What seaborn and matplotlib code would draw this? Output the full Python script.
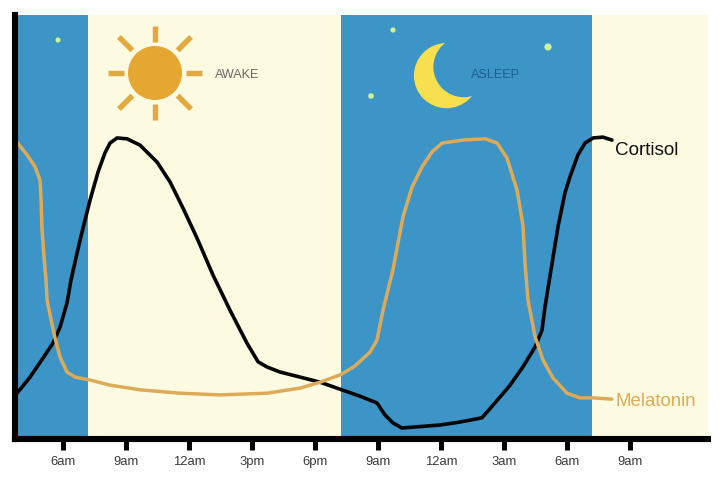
import numpy as np
import pandas as pd
import matplotlib
matplotlib.use("Agg")
import matplotlib.pyplot as plt
from matplotlib.patches import Circle
import seaborn as sns

cortisol_hour = [3.69, 3.81, 4.43, 5.05, 5.52, 5.86, 6.19, 6.38, 6.81, 7.29, 7.67, 8.0, 8.24, 8.57, 9.05,
                 9.67, 10.48, 11.10, 11.71, 12.38, 13.14, 13.95, 14.76, 15.29, 15.71, 16.33, 17.29, 18.24,
                 20.14, 20.95, 21.33, 21.71, 22.14, 23.95, 24.90, 25.95, 26.48, 27.29, 27.90, 28.48, 28.81,
                 28.95, 29.29, 29.57, 29.90, 30.14, 30.52, 30.86, 31.24, 31.71, 32.14]
cortisol_level = [10.1, 10.8, 14.6, 19.1, 22.6, 26.4, 32.1, 37.5, 46.9, 56.4, 63.0, 67.5, 69.8, 71.0, 70.8,
                  69.3, 65.3, 60.6, 54.5, 47.4, 38.7, 30.4, 22.6, 18.2, 17.0, 15.8, 14.6, 13.4,
                  10.1, 8.5, 5.7, 3.8, 2.6, 3.3, 4.0, 5.0, 8.0, 12.7, 17.0, 21.7, 25.7,
                  31.1, 41.5, 50.0, 58.0, 61.8, 67.0, 69.8, 71.0, 71.2, 70.5]
melatonin_hour = [3.81, 4.29, 4.67, 4.90, 4.95, 5.0, 5.12, 5.19, 5.24, 5.43, 5.62, 5.86, 6.19, 6.57, 7.29,
                  8.24, 9.67, 11.57, 13.48, 15.71, 17.29, 18.24, 19.19, 19.90, 20.62, 20.95, 21.24, 21.71,
                  22.19, 22.62, 23.10, 23.57, 24.05, 25.05, 26.10, 26.67, 27.14, 27.62, 27.90, 28.0, 28.14,
                  28.48, 28.86, 29.33, 30.0, 30.62, 31.24, 32.14]
melatonin_level = [70.0, 67.0, 64.2, 61.1, 57.1, 49.3, 41.5, 37.5, 32.8, 28.1, 23.8, 19.3, 15.8, 14.6, 13.9,
                   12.7, 11.6, 10.8, 10.4, 10.8, 12.0, 13.4, 15.1, 17.2, 20.5, 23.3, 30.4, 39.9,
                   52.4, 59.4, 64.2, 67.7, 69.8, 70.5, 70.8, 69.8, 66.3, 58.7, 50.5, 41.5, 32.8,
                   24.1, 18.6, 14.4, 10.8, 9.7, 9.7, 9.4]
tick_hours = [6, 9, 12, 15, 18, 21, 24, 27, 30, 33]
tick_labels = ["6am", "9am", "12am", "3pm", "6pm", "9am", "12am", "3am", "6am", "9am"]
band_edges = [3.69, 7.21, 19.24, 31.17, 36.7]
band_states = ["asleep", "awake", "asleep", "awake"]

BLUE, CREAM, GOLD = "#3D94C6", "#FCFBE2", "#DDAB58"

sns.set_theme(style="white")
plt.rcParams["font.family"] = ["Liberation Sans", "DejaVu Sans"]

fig = plt.figure(figsize=(7.2, 4.78), dpi=100, facecolor="white")
ax = fig.add_axes([14.5/720, (478-439)/478, (707.7-14.5)/720, (439-15)/478])

for a, b, s in zip(band_edges[:-1], band_edges[1:], band_states):
    ax.axvspan(a, b, color=BLUE if s == "asleep" else CREAM, lw=0, zorder=0)

cort = pd.DataFrame({"hour": cortisol_hour, "level": cortisol_level})
mel = pd.DataFrame({"hour": melatonin_hour, "level": melatonin_level})
sns.lineplot(data=mel, x="hour", y="level", ax=ax, color=GOLD, lw=2.5, estimator=None, sort=False,
             solid_joinstyle="round", solid_capstyle="round", zorder=4)
sns.lineplot(data=cort, x="hour", y="level", ax=ax, color="#050505", lw=2.6, estimator=None, sort=False,
             solid_joinstyle="round", solid_capstyle="round", zorder=3)

ax.set_xlim(band_edges[0], band_edges[-1])
ax.set_ylim(0, 100)
ax.set_xlabel("")
ax.set_ylabel("")
ax.set_yticks([])
ax.set_xticks(tick_hours)
ax.set_xticklabels(tick_labels, fontsize=9.4, color="#3a3a3a")
ax.tick_params(axis="x", length=8, width=3.6, color="black", pad=4.5, bottom=True)
for s in ("top", "right"):
    ax.spines[s].set_visible(False)
for s in ("left", "bottom"):
    ax.spines[s].set_visible(True)
    ax.spines[s].set_linewidth(4.4)
    ax.spines[s].set_color("black")
    ax.spines[s].set_zorder(6)

ax.text(32.3, 68.05, "Cortisol", fontsize=13.6, color="#111111", va="center", ha="left", zorder=5)
ax.text(32.3, 8.75, "Melatonin", fontsize=13.4, color="#DDAA55", va="center", ha="left", zorder=5)

# Illustration overlay, in pixel coordinates
deco = fig.add_axes([0, 0, 1, 1], facecolor="none")
deco.set_xlim(0, 720)
deco.set_ylim(478, 0)
deco.axis("off")

sun_x, sun_y = 155, 73
deco.add_patch(Circle((sun_x, sun_y), 27, color="#E5A632", lw=0))
for deg in range(0, 360, 45):
    ang = np.deg2rad(deg)
    r0, r1 = (31, 47) if deg % 90 == 0 else (32, 51)
    deco.plot([sun_x + r0*np.cos(ang), sun_x + r1*np.cos(ang)],
              [sun_y + r0*np.sin(ang), sun_y + r1*np.sin(ang)],
              color="#E2A940", lw=3.9, solid_capstyle="butt")
deco.text(215, 75, "AWAKE", fontsize=9.1, color="#6a6a66", va="center", ha="left")

deco.add_patch(Circle((446.5, 75.6), 32.6, color="#F8DF4F", lw=0))
deco.add_patch(Circle((463.7, 66.9), 30.3, color=BLUE, lw=0))
deco.text(471, 75, "ASLEEP", fontsize=9.1, color="#1F5F90", va="center", ha="left")

for x, y, r in [(58, 40, 2.6), (393, 30, 2.6), (548, 47, 3.6), (371, 96, 2.8)]:
    deco.add_patch(Circle((x, y), r, color="#CDF29A", lw=0))

fig.savefig("out.png", dpi=100, facecolor="white")
